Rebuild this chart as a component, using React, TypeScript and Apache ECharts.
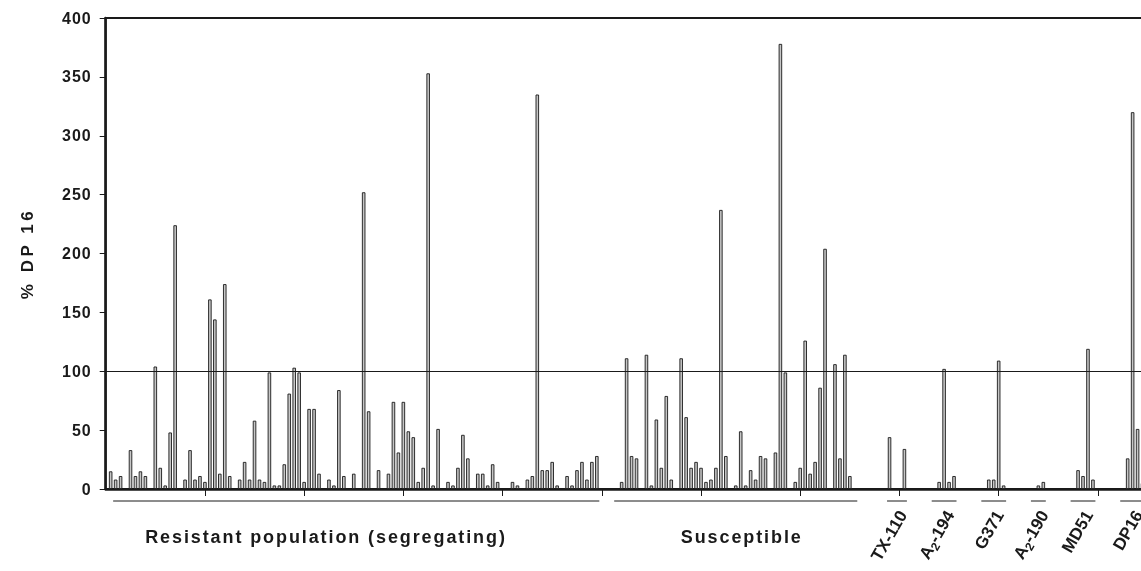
import React, { useEffect, useRef } from "react";
import * as echarts from "echarts";

// % DP 16 values, one per slot (0 = empty slot)
const resistant = [
  15, 8, 11, 0, 33, 11, 15, 11, 0, 104,
  18, 3, 48, 224, 0, 8, 33, 8, 11, 6,
  161, 144, 13, 174, 11, 0, 8, 23, 8, 58,
  8, 6, 99, 3, 3, 21, 81, 103, 99, 6,
  68, 68, 13, 0, 8, 3, 84, 11, 0, 13,
  0, 252, 66, 0, 16, 0, 13, 74, 31, 74,
  49, 44, 6, 18, 353, 3, 51, 0, 6, 3,
  18, 46, 26, 0, 13, 13, 3, 21, 6, 0,
  0, 6, 3, 0, 8, 11, 335, 16, 16, 23,
  3, 0, 11, 3, 16, 23, 8, 23, 28,
];
const susceptible = [
  0,
  6, 111, 28, 26, 0, 114, 3, 59, 18, 79,
  8, 0, 111, 61, 18, 23, 18, 6, 8, 18,
  237, 28, 0, 3, 49, 3, 16, 8, 28, 26,
  0, 31, 378, 99, 0, 6, 18, 126, 13, 23,
  86, 204, 0, 106, 26, 114, 11, 0,
];
const tx110 = [44, 0, 0, 34];
const a2_194 = [0, 6, 102, 6, 11];
const g371 = [0, 8, 8, 109, 3];
const a2_190 = [0, 3, 6];
const md51 = [0, 16, 11, 119, 8];
const dp16 = [0, 26, 320, 51, 5];

const yTicks = [0, 50, 100, 150, 200, 250, 300, 350, 400];
const referenceLevel = 100;

// groups with the number of empty slots before each
const groups = [
  { label: "Resistant population (segregating)", values: resistant, gap: 1, rotated: false },
  { label: "Susceptible", values: susceptible, gap: 3, rotated: false },
  { label: "TX-110", values: tx110, gap: 6, rotated: true },
  { label: "A2-194", values: a2_194, gap: 5, rotated: true, sub: true },
  { label: "G371", values: g371, gap: 5, rotated: true },
  { label: "A2-190", values: a2_190, gap: 5, rotated: true, sub: true },
  { label: "MD51", values: md51, gap: 5, rotated: true },
  { label: "DP16", values: dp16, gap: 5, rotated: true },
];
const trailingSlots = 4;

const FONT = "'Liberation Sans', Arial, sans-serif";
const INK = "#1a1a1a";

export default function App() {
  const ref = useRef<HTMLDivElement>(null);
  useEffect(() => {
    const chart = echarts.init(ref.current!, null, { renderer: "svg" });

    const data: (number | null)[] = [];
    const spans: { first: number; last: number; g: any }[] = [];
    groups.forEach((g) => {
      for (let i = 0; i < g.gap; i++) data.push(null);
      const first = data.length;
      g.values.forEach((v) => data.push(v === 0 ? null : v));
      spans.push({ first, last: data.length - 1, g });
    });
    for (let i = 0; i < trailingSlots; i++) data.push(null);
    const cats = data.map((_, i) => String(i));

    const W = 1200;
    const left = 105.7;
    const pitch = 4.961;
    const right = W - left - (cats.length - 1) * pitch;

    chart.setOption({
      animation: false,
      grid: {
        left,
        right,
        top: 18,
        bottom: 82,
        show: true,
        borderColor: INK,
        borderWidth: 2,
      },
      xAxis: {
        type: "category",
        data: cats,
        boundaryGap: false,
        axisLine: { show: true, lineStyle: { color: INK, width: 2.5 } },
        axisTick: {
          show: true,
          interval: (i: number) => i > 0 && i % 20 === 0,
          length: 7,
          lineStyle: { color: INK, width: 1 },
        },
        axisLabel: { show: false },
        splitLine: { show: false },
      },
      yAxis: {
        type: "value",
        min: yTicks[0],
        max: yTicks[yTicks.length - 1],
        interval: 50,
        axisLine: { show: true, lineStyle: { color: INK, width: 2.5 } },
        axisTick: { show: true, length: 6, lineStyle: { color: INK, width: 1 } },
        axisLabel: {
          fontFamily: FONT,
          fontWeight: "bold",
          fontSize: 16,
          color: INK,
          margin: 14,
        },
        splitLine: { show: false },
        name: "% DP 16",
        nameLocation: "middle",
        nameGap: 70,
        nameRotate: 90,
        nameTextStyle: {
          fontFamily: FONT,
          fontWeight: "bold",
          fontSize: 17,
          color: INK,
        },
      },
      series: [
        {
          type: "bar",
          data,
          barWidth: 3.5,
          itemStyle: { color: "#c6c6c6", borderColor: INK, borderWidth: 0.9 },
          markLine: {
            silent: true,
            symbol: "none",
            label: { show: false },
            lineStyle: { color: INK, width: 1.2, type: "solid" },
            data: [{ yAxis: referenceLevel }],
          },
        },
      ],
    });

    const px = (i: number) => chart.convertToPixel({ xAxisIndex: 0 }, i) as number;
    const step = px(1) - px(0);
    const graphics: any[] = [];
    const lineY = 501;
    spans.forEach(({ first, last, g }, gi) => {
      const x1 = px(first) - step / 2 + (gi === 0 ? step : 0);
      const x2 = px(last) + step / 2;
      graphics.push({
        type: "line",
        shape: { x1, y1: lineY, x2, y2: lineY },
        style: { stroke: INK, lineWidth: 1 },
        silent: true,
      });
      if (!g.rotated) {
        const cx = gi === 0 ? 326 : (x1 + x2) / 2 + 6;
        graphics.push({
          type: "text",
          x: cx,
          y: 537,
          style: {
            text: g.label,
            fontFamily: FONT,
            fontWeight: "bold",
            fontSize: 18,
            fill: INK,
            align: "center",
            verticalAlign: "middle",
          },
        });
      } else {
        const cx = (px(first) + px(last)) / 2 + 6;
        const text = g.sub
          ? `{a|${g.label[0]}}{s|${g.label[1]}}{a|${g.label.slice(2)}}`
          : `{a|${g.label}}`;
        graphics.push({
          type: "text",
          x: cx,
          y: 512,
          rotation: Math.PI / 3,
          style: {
            text,
            align: "right",
            verticalAlign: "middle",
            rich: {
              a: { fontFamily: FONT, fontWeight: "bold", fontSize: 17, fill: INK, lineHeight: 20 },
              s: {
                fontFamily: FONT,
                fontWeight: "bold",
                fontSize: 12,
                fill: INK,
                lineHeight: 12,
                padding: [9, 0, 0, 0],
              },
            },
          },
        });
      }
    });
    chart.setOption({ graphic: graphics });

    const spacing = () => {
      const root = ref.current;
      if (!root) return;
      root.querySelectorAll("text").forEach((t) => {
        const s = (t.textContent || "").trim();
        if (s === "Resistant population (segregating)" || s === "Susceptible") {
          t.setAttribute("letter-spacing", "1.9");
        } else if (s === "% DP 16") {
          t.setAttribute("letter-spacing", "3.5");
        } else if (/^\d+$/.test(s) && yTicks.includes(Number(s))) {
          t.setAttribute("letter-spacing", "1");
        }
      });
    };
    spacing();
    const raf = requestAnimationFrame(spacing);
    chart.on("finished", spacing);

    return () => {
      cancelAnimationFrame(raf);
      chart.dispose();
    };
  }, []);
  return (
    <div
      ref={ref}
      style={{ position: "fixed", left: 0, top: 0, width: 1200, height: 571 }}
    />
  );
}
